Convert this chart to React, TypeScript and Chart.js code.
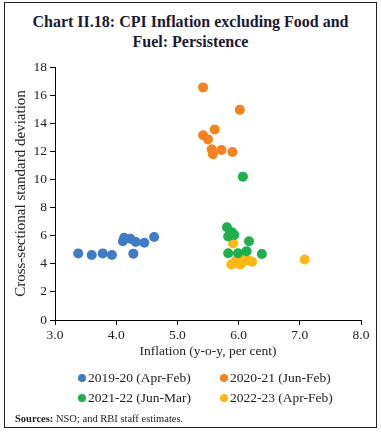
import React, { useEffect, useRef } from "react";
import { Chart, registerables } from "chart.js";

Chart.register(...registerables);

const seriesLabels = ["2019-20 (Apr-Feb)", "2020-21 (Jun-Feb)", "2021-22 (Jun-Mar)", "2022-23 (Apr-Feb)"];
const seriesColors = ["#3F7CC4", "#F5821F", "#1FAF4B", "#FDB813"];

const blueX = [3.38, 3.6, 3.78, 3.93, 4.11, 4.13, 4.23, 4.28, 4.32, 4.46, 4.62];
const blueY = [4.74, 4.62, 4.74, 4.62, 5.6, 5.85, 5.78, 4.72, 5.55, 5.5, 5.9];

const orangeX = [5.42, 6.02, 5.61, 5.42, 5.5, 5.56, 5.58, 5.72, 5.9];
const orangeY = [16.55, 14.95, 13.55, 13.15, 12.85, 12.15, 11.8, 12.1, 11.95];

const greenX = [6.07, 5.81, 5.89, 5.83, 5.93, 6.17, 5.83, 5.99, 6.13, 6.38];
const greenY = [10.2, 6.6, 6.25, 5.95, 6.05, 5.6, 4.75, 4.75, 4.9, 4.7];

const yellowX = [5.91, 7.08, 5.88, 5.97, 6.03, 6.0, 6.06, 6.11, 6.16, 6.22, 5.95];
const yellowY = [5.45, 4.3, 3.95, 4.05, 3.95, 4.3, 4.4, 4.25, 4.25, 4.15, 4.2];

const xMin = 3;
const xMax = 8;
const yMin = 0;
const yMax = 18;

const title1 = "Chart II.18: CPI Inflation excluding Food and";
const title2 = "Fuel: Persistence";
const xTitle = "Inflation (y-o-y, per cent)";
const yTitle = "Cross-sectional standard deviation";

const serif = "'Liberation Serif', 'DejaVu Serif', serif";

function pts(xs: number[], ys: number[]) {
  return xs.map((x, i) => ({ x, y: ys[i] }));
}

export default function App() {
  const ref = useRef<HTMLCanvasElement | null>(null);

  useEffect(() => {
    document.body.style.margin = "0";
    const canvas = ref.current;
    if (!canvas) return;
    const all = [
      [blueX, blueY],
      [orangeX, orangeY],
      [greenX, greenY],
      [yellowX, yellowY],
    ];
    const chart = new Chart(canvas, {
      type: "scatter",
      data: {
        datasets: all.map(([xs, ys], i) => ({
          label: seriesLabels[i],
          data: pts(xs, ys),
          backgroundColor: seriesColors[i],
          borderColor: seriesColors[i],
          pointRadius: 5,
          pointBorderWidth: 0,
        })),
      },
      options: {
        animation: false,
        responsive: false,
        maintainAspectRatio: false,
        layout: { padding: { left: 0, top: 67, right: 20, bottom: 73 } },
        plugins: {
          legend: { display: false },
          tooltip: { enabled: false },
        },
        scales: {
          x: {
            type: "linear",
            min: xMin,
            max: xMax,
            afterFit: (s: any) => {
              s.height = 40;
            },
            border: { display: true, color: "#000", width: 1 },
            grid: { drawOnChartArea: false, drawTicks: true, tickLength: 5, color: "#000" },
            ticks: {
              stepSize: 1,
              color: "#222",
              font: { family: serif, size: 13.5 },
              padding: 2,
              callback: (v: any) => Number(v).toFixed(1),
            },
            title: {
              display: true,
              text: xTitle,
              color: "#222",
              font: { family: serif, size: 13.5 },
              padding: { top: -2, bottom: 0 },
            },
          },
          y: {
            type: "linear",
            min: yMin,
            max: yMax,
            afterFit: (s: any) => {
              s.width = 55;
            },
            border: { display: true, color: "#000", width: 1 },
            grid: { drawOnChartArea: false, drawTicks: true, tickLength: 5, color: "#000" },
            ticks: {
              stepSize: 2,
              color: "#222",
              font: { family: serif, size: 13.5 },
              padding: 3,
            },
            title: {
              display: true,
              text: yTitle,
              color: "#222",
              font: { family: serif, size: 15 },
              padding: { top: 12, bottom: 0 },
            },
          },
        },
      },
    } as any);
    return () => chart.destroy();
  }, []);

  const legendItem = (i: number) => (
    <div style={{ display: "flex", alignItems: "center", width: 142 }}>
      <span
        style={{
          display: "inline-block",
          width: 8,
          height: 8,
          borderRadius: 4,
          background: seriesColors[i],
          marginRight: 2,
        }}
      />
      <span>{seriesLabels[i]}</span>
    </div>
  );

  return (
    <div style={{ position: "relative", width: 381, height: 433, fontFamily: serif, background: "#fff" }}>
      <div
        style={{
          position: "absolute",
          left: 4,
          top: 2,
          width: 371,
          height: 424,
          border: "1px solid #222",
        }}
      />
      <div
        style={{
          position: "absolute",
          left: 0,
          top: 12,
          width: 381,
          textAlign: "center",
          fontWeight: "bold",
          fontSize: 16,
          lineHeight: "20px",
          color: "#1a1a33",
        }}
      >
        <div>{title1}</div>
        <div>{title2}</div>
      </div>
      <canvas ref={ref} width={381} height={433} style={{ position: "absolute", left: 0, top: 0 }} />
      <div
        style={{
          position: "absolute",
          left: 78,
          top: 368,
          fontSize: 13.5,
          lineHeight: "20px",
          color: "#222",
        }}
      >
        <div style={{ display: "flex" }}>
          {legendItem(0)}
          {legendItem(1)}
        </div>
        <div style={{ display: "flex" }}>
          {legendItem(2)}
          {legendItem(3)}
        </div>
      </div>
      <div style={{ position: "absolute", left: 15, top: 413, fontSize: 10.5, color: "#222" }}>
        <b>Sources:</b> NSO; and RBI staff estimates.
      </div>
    </div>
  );
}
